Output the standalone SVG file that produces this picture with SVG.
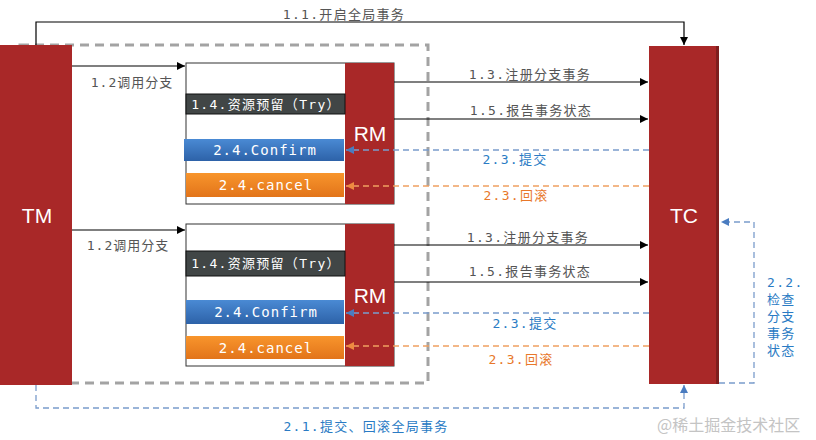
<svg xmlns="http://www.w3.org/2000/svg" width="816" height="440" viewBox="0 0 816 440">
<defs>
<marker id="ab" markerWidth="10" markerHeight="10" refX="9" refY="5" orient="auto" markerUnits="userSpaceOnUse"><path d="M1,1 L9,5 L1,9 Z" fill="#000"/></marker>
<marker id="abl" markerWidth="10" markerHeight="10" refX="9" refY="5" orient="auto" markerUnits="userSpaceOnUse"><path d="M1,1 L9,5 L1,9 Z" fill="#4a7cc0"/></marker>
<marker id="aor" markerWidth="10" markerHeight="10" refX="9" refY="5" orient="auto" markerUnits="userSpaceOnUse"><path d="M1,1 L9,5 L1,9 Z" fill="#ee8a40"/></marker>
<linearGradient id="gb" x1="0" y1="0" x2="0" y2="1"><stop offset="0" stop-color="#4a8ad4"/><stop offset="1" stop-color="#2d62a8"/></linearGradient>
<linearGradient id="go" x1="0" y1="0" x2="0" y2="1"><stop offset="0" stop-color="#f8952c"/><stop offset="1" stop-color="#e2741a"/></linearGradient>
</defs>
<style>
.red{fill:#a92828}
.big{font-family:"Liberation Sans","Noto Sans",sans-serif;font-size:21px;fill:#fff;text-anchor:middle}
.lbl{font-family:"DejaVu Sans Mono","Noto Sans CJK SC",monospace;font-size:13px;letter-spacing:1.3px;text-anchor:middle}
.g{fill:#555}
.b{fill:#2a7bc4}
.o{fill:#e8772a}
.bar{font-family:"DejaVu Sans Mono","Noto Sans CJK SC",monospace;font-size:14px;letter-spacing:1px;text-anchor:middle;fill:#fff}
.ln{stroke:#000;stroke-width:1.2;fill:none}
.dbl{stroke:#7a9ccb;stroke-width:1.3;stroke-dasharray:6,4;fill:none}
.dor{stroke:#f0a060;stroke-width:1.3;stroke-dasharray:6,4;fill:none}
</style>
<rect width="816" height="440" fill="#fff"/>
<g id="boundary">
<rect x="20" y="45" width="408" height="338" fill="none" stroke="#a3a3a3" stroke-width="3" stroke-dasharray="9,6"/>
</g>
<g id="TM">
<rect class="red" x="0" y="45" width="72" height="340"/>
<text class="big" x="37" y="223">TM</text>
</g>
<g id="TC">
<rect class="red" x="649" y="46" width="70" height="338"/>
<rect x="716" y="46" width="3" height="338" fill="#7e1e1e"/>
<text class="big" x="684" y="223">TC</text>
</g>
<g id="branch1">
<rect x="186" y="63" width="208" height="141" fill="#fff" stroke="#333" stroke-width="1"/>
<g id="RM1"><rect class="red" x="345" y="63" width="49" height="141"/><text class="big" x="370" y="141">RM</text></g>
<g id="try1"><rect x="186" y="94" width="159" height="20" fill="#414646" stroke="#111" stroke-width="1"/><text class="bar" x="266" y="109" style="font-size:13px;letter-spacing:1.3px">1.4.资源预留（Try）</text></g>
<g id="confirm1"><rect x="184" y="139" width="160" height="22" fill="url(#gb)"/><text class="bar" x="265" y="155">2.4.Confirm</text></g>
<g id="cancel1"><rect x="186" y="173" width="158" height="24" fill="url(#go)"/><text class="bar" x="266" y="190">2.4.cancel</text></g>
</g>
<g id="branch2">
<rect x="186" y="224" width="208" height="142" fill="#fff" stroke="#333" stroke-width="1"/>
<g id="RM2"><rect class="red" x="345" y="224" width="49" height="142"/><text class="big" x="370" y="303">RM</text></g>
<g id="try2"><rect x="186" y="251" width="159" height="25" fill="#414646" stroke="#111" stroke-width="1"/><text class="bar" x="266" y="268" style="font-size:13px;letter-spacing:1.3px">1.4.资源预留（Try）</text></g>
<g id="confirm2"><rect x="186" y="300" width="158" height="24" fill="url(#gb)"/><text class="bar" x="266" y="317">2.4.Confirm</text></g>
<g id="cancel2"><rect x="186" y="336" width="158" height="23" fill="url(#go)"/><text class="bar" x="266" y="353">2.4.cancel</text></g>
</g>
<g id="connectors">
<path class="ln" d="M36,45 V22 H684 V45" marker-end="url(#ab)"/>
<path class="ln" d="M72,66 H185" marker-end="url(#ab)"/>
<path class="ln" d="M72,230 H185" marker-end="url(#ab)"/>
<path class="ln" d="M394,82 H648" marker-end="url(#ab)"/>
<path class="ln" d="M394,119 H648" marker-end="url(#ab)"/>
<path class="ln" d="M394,245 H648" marker-end="url(#ab)"/>
<path class="ln" d="M394,282 H648" marker-end="url(#ab)"/>
<path class="dbl" d="M649,150 H346" marker-end="url(#abl)"/>
<path class="dor" d="M649,186 H346" marker-end="url(#aor)"/>
<path class="dbl" d="M649,313 H346" marker-end="url(#abl)"/>
<path class="dor" d="M649,346 H346" marker-end="url(#aor)"/>
<path class="dbl" d="M36,385 V408 H684 V385" marker-end="url(#abl)"/>
<path class="dbl" d="M719,383 H754 V222 H721" marker-end="url(#abl)"/>
</g>
<g id="labels">
<text class="lbl g" x="344" y="19">1.1.开启全局事务</text>
<text class="lbl g" x="132" y="87" style="letter-spacing:1px">1.2调用分支</text>
<text class="lbl g" x="128" y="250" style="letter-spacing:1px">1.2调用分支</text>
<text class="lbl g" x="530" y="79">1.3.注册分支事务</text>
<text class="lbl g" x="531" y="115">1.5.报告事务状态</text>
<text class="lbl b" x="515" y="164">2.3.提交</text>
<text class="lbl o" x="516" y="200">2.3.回滚</text>
<text class="lbl g" x="528" y="242">1.3.注册分支事务</text>
<text class="lbl g" x="530" y="276">1.5.报告事务状态</text>
<text class="lbl b" x="525" y="328">2.3.提交</text>
<text class="lbl o" x="521" y="364">2.3.回滚</text>
<text class="lbl b" x="366" y="431">2.1.提交、回滚全局事务</text>
<g class="lbl b" style="text-anchor:start">
<text x="767" y="287">2.2.</text>
<text x="767" y="304">检查</text>
<text x="767" y="321">分支</text>
<text x="767" y="338">事务</text>
<text x="767" y="355">状态</text>
</g>
<text x="657" y="431" font-family="'Noto Sans CJK SC',sans-serif" font-size="16" fill="#c4c4c4">@稀土掘金技术社区</text>
</g>
</svg>
